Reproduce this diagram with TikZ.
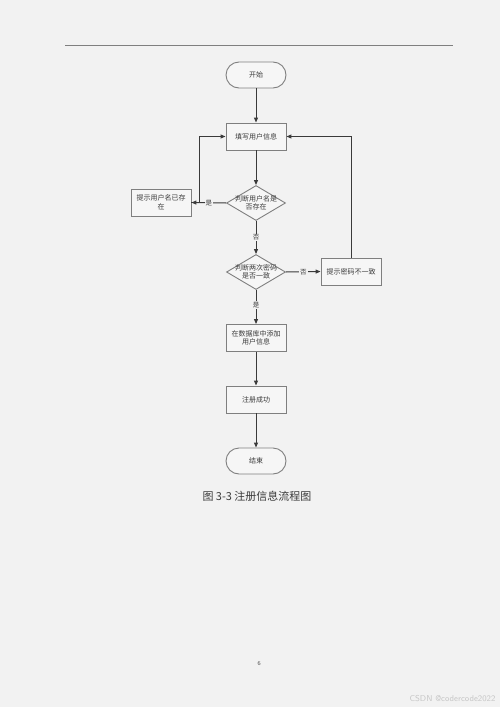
\documentclass[tikz,border=0pt]{standalone}
\usepackage{fontspec}
\setmainfont{Liberation Serif}
\newfontfamily\cjk{Noto Sans CJK SC}
\usetikzlibrary{shapes.geometric,arrows.meta}
\definecolor{bg}{HTML}{F2F2F2}
\definecolor{edge}{HTML}{7F7F7F}
\definecolor{ink}{HTML}{3A3A3A}
\definecolor{boxfill}{HTML}{F6F6F6}
\tikzset{
  every node/.style={font=\cjk\fontsize{7}{8.5}\selectfont, text=ink},
  procbox/.style={draw=edge, fill=boxfill, line width=0.9pt, rectangle, minimum width=60pt, minimum height=27pt, inner sep=1pt, align=center},
  termbox/.style={draw=edge, fill=boxfill, line width=0.9pt, rectangle, rounded corners=13pt, minimum width=60pt, minimum height=26pt, inner sep=1pt},
  decbox/.style={draw=edge, fill=boxfill, line width=0.9pt, diamond, minimum width=59pt, minimum height=35pt, inner sep=0pt, aspect=1.7},
  flow/.style={draw=ink, line width=1pt, -{Triangle[length=5pt,width=4pt]}},
  link/.style={draw=ink, line width=1pt},
  tag/.style={fill=bg, inner sep=1pt, font=\cjk\fontsize{6.5}{7}\selectfont}
}
\begin{document}
\begin{tikzpicture}[x=1pt,y=-1pt]
\fill[bg] (0,0) rectangle (500,707);
\useasboundingbox (0,0) rectangle (500,707);
\coordinate (hl) at (65,45);
\coordinate (hr) at (453,45);
\draw[edge, line width=1pt] (hl) -- (hr);

\node[termbox] (start) at (256,75) {开始};
\node[procbox] (fill) at (256,136.5) {填写用户信息};
\node[decbox, label={[align=center, font=\cjk\fontsize{7}{8.5}\selectfont, text=ink]center:判断用户名是\\否存在}] (d1) at (256,203) {};
\node[procbox, text width=56pt] (ex) at (161,202.5) {提示用户名已存\\在};
\node[decbox, label={[align=center, font=\cjk\fontsize{7}{8.5}\selectfont, text=ink]center:判断两次密码\\是否一致}] (d2) at (256,272) {};
\node[procbox] (pw) at (351,271.5) {提示密码不一致};
\node[procbox] (db) at (256,338) {在数据库中添加\\用户信息};
\node[procbox] (ok) at (256,399.5) {注册成功};
\node[termbox] (end) at (256,461) {结束};

\node[font=\cjk\fontsize{11}{13}\selectfont, text=ink] (cap) at (257,496) {图 3-3 注册信息流程图};
\node[font=\fontsize{6}{7}\selectfont, text=ink] (pg) at (259,664) {6};
\node[anchor=east, font=\fontsize{8.5}{10}\selectfont\sffamily, text=black!22] (wm) at (499,699) {CSDN @codercode2022};

\draw[flow] (start) -- (fill);
\draw[flow] (fill) -- (d1);
\draw[flow] (d1.west) -- node[tag]{是} (ex.east);
\draw[link, -{Triangle[length=5pt,width=4pt]}] (ex.east) -- ++(8,0) |- (fill.west);
\draw[flow] (d1.south) -- node[tag]{否} (d2.north);
\draw[flow] (d2.east) -- node[tag]{否} (pw.west);
\draw[link, -{Triangle[length=5pt,width=4pt]}] (pw.north) |- (fill.east);
\draw[flow] (d2.south) -- node[tag, pos=0.45]{是} (db.north);
\draw[flow] (db) -- (ok);
\draw[flow] (ok) -- (end);
\end{tikzpicture}
\end{document}
